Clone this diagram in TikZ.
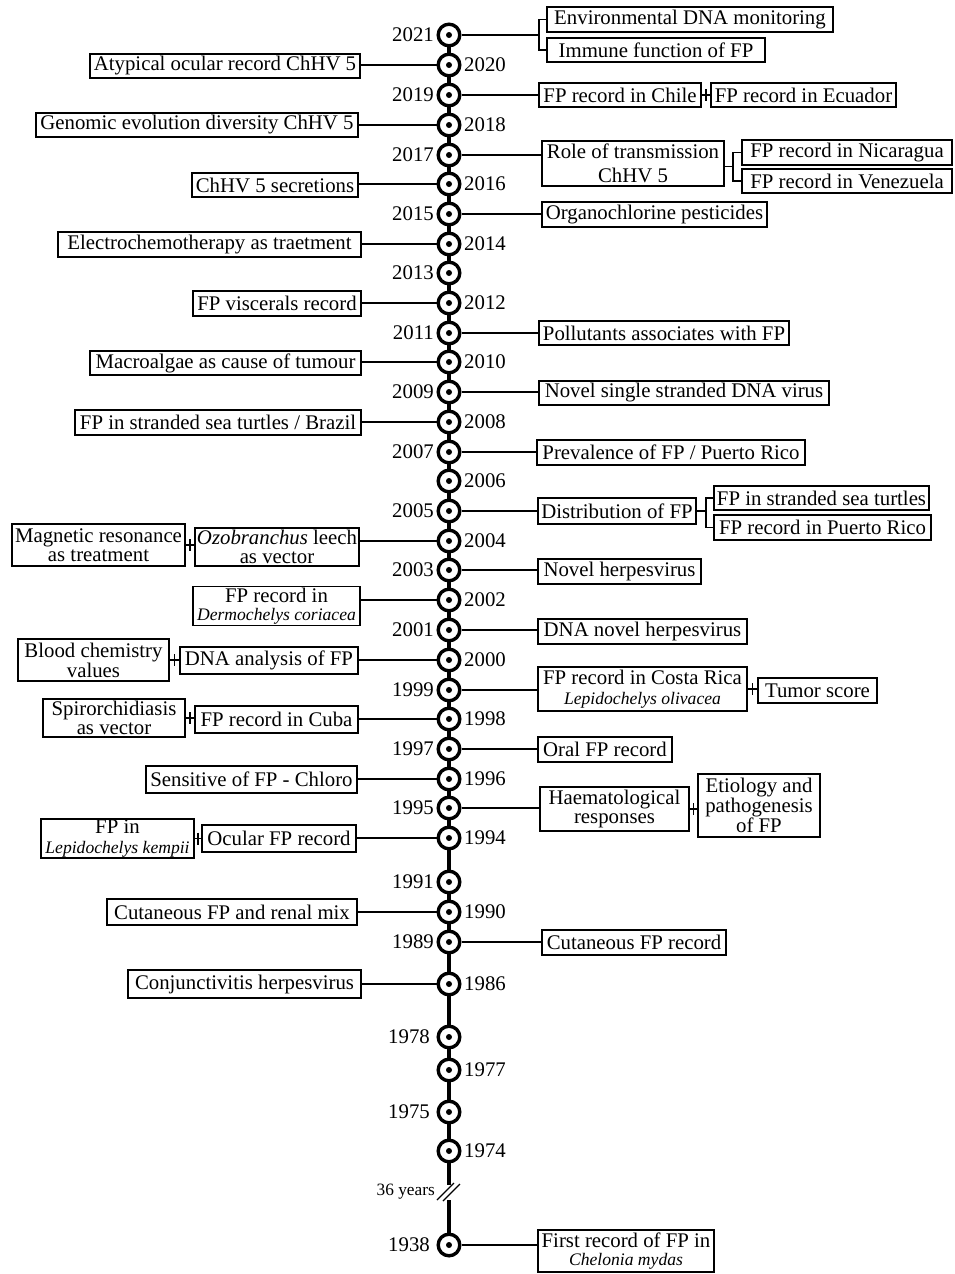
\documentclass[tikz,border=0pt]{standalone}
\usepackage{fontspec}
\setmainfont{Liberation Serif}
\usetikzlibrary{backgrounds}
\newcommand\mainf{\fontsize{20.8pt}{18.5pt}\selectfont}
\newcommand\spf{\fontsize{17.6pt}{17pt}\selectfont\itshape}
\newcommand\smf{\fontsize{17.3pt}{18pt}\selectfont}
\newcommand\BX[6]{\node[bx, minimum width={(#3-#2-1.6)*1pt}, minimum height={(#5-#4-1.6)*1pt}] (#1) at ({(#2+#3)/2},{(#4+#5)/2}) {#6};}
\newcommand\LK[2]{\draw[cn] (#1.east) -- coordinate (m#1) (#1.east -| #2.west); \draw[cn] ([yshift=6pt]m#1) -- ([yshift=-6pt]m#1);}
\tikzset{
  bx/.style={draw, line width=1.6pt, inner xsep=1pt, inner ysep=1pt, align=center, font=\mainf},
  cn/.style={line width=1.5pt},
  tl/.style={line width=3.5pt},
  yr/.style={circle, draw, line width=3.4pt, fill=white, minimum size=21.6pt, inner sep=0pt},
  lab/.style={font=\mainf, inner xsep=2.5pt, inner ysep=0pt},
}
\begin{document}
\begin{tikzpicture}[x=1pt, y=-1pt]
\useasboundingbox (0,0) rectangle (955,1274);

% year circles
\foreach \y/\yy in {2021/35,2019/95,2017/155,2015/214,2013/273,2011/333,2009/392,2007/452,2005/511,2003/570,2001/630,1999/690,1997/749,1995/808,1991/882,1989/942}{
  \node[yr] (c\y) at (449,\yy) {};
  \fill (c\y) circle (3pt);
  \node[lab, anchor=east] (l\y) at (c\y.west) {\y};
}
\foreach \y/\yy in {1978/1037,1975/1112,1938/1245}{
  \node[yr] (c\y) at (449,\yy) {};
  \fill (c\y) circle (3pt);
  \node[lab, anchor=east, xshift=-4pt] (l\y) at (c\y.west) {\y};
}
\foreach \y/\yy in {2020/65,2018/125,2016/184,2014/244,2012/303,2010/362,2008/422,2006/481,2004/541,2002/600,2000/660,1998/719,1996/779,1994/838,1990/912,1986/984,1977/1070,1974/1151}{
  \node[yr] (c\y) at (449,\yy) {};
  \fill (c\y) circle (3pt);
  \node[lab, anchor=west] (l\y) at (c\y.east) {\y};
}

% timeline
\coordinate (brk1) at (449,1185);
\coordinate (brk2) at (449,1200);
\begin{scope}[on background layer]
  \draw[tl] (c2021.center) -- (brk1);
  \draw[tl] (brk2) -- (c1938.center);
\end{scope}
\draw[line width=1.3pt] (437,1200) -- (454,1183);
\draw[line width=1.3pt] (443,1201) -- (460,1184);
\node[font=\smf, anchor=east, inner sep=1pt] (gap) at (436,1192) {36 years};

% right boxes
\BX{env}{546}{834}{6}{33}{Environmental DNA monitoring}
\BX{imm}{546}{766}{37}{63}{Immune function of FP}
\BX{chile}{538}{702}{82}{108}{FP record in Chile}
\BX{ecu}{710}{897}{82}{108}{FP record in Ecuador}
\BX{role}{541}{725}{140}{187}{Role of transmission\\[5pt]ChHV 5}
\BX{nic}{741}{953}{139}{166}{FP record in Nicaragua}
\BX{ven}{741}{953}{168}{194}{FP record in Venezuela}
\BX{org}{541}{768}{201}{228}{Organochlorine pesticides}
\BX{pol}{538}{790}{320}{346}{Pollutants associates with FP}
\BX{nss}{538}{830}{380}{406}{Novel single stranded DNA virus}
\BX{prev}{536}{806}{439}{466}{Prevalence of FP / Puerto Rico}
\BX{dist}{537}{697}{497}{525}{Distribution of FP}
\BX{stt}{713}{930}{485}{511}{FP in stranded sea turtles}
\BX{prr}{713}{932}{514}{541}{FP record in Puerto Rico}
\BX{nh}{537}{702}{558}{585}{Novel herpesvirus}
\BX{dnh}{537}{748}{618}{645}{DNA novel herpesvirus}
\BX{cr}{537}{748}{666}{712}{FP record in Costa Rica\\[1pt]{\spf Lepidochelys olivacea}}
\BX{ts}{757}{878}{677}{704}{Tumor score}
\BX{oral}{537}{673}{736}{763}{Oral FP record}
\BX{haem}{539}{690}{786}{832}{Haematological\\responses}
\BX{etio}{697}{821}{773}{838}{Etiology and\\pathogenesis\\of FP}
\BX{cut}{541}{727}{929}{956}{Cutaneous FP record}
\BX{first}{537}{715}{1229}{1273}{First record of FP in\\{\spf Chelonia mydas}}

% left boxes
\BX{aty}{89}{361}{53}{79}{Atypical ocular record ChHV 5}
\BX{gen}{35}{359}{112}{138}{Genomic evolution diversity ChHV 5}
\BX{sec}{191}{359}{172}{198}{ChHV 5 secretions}
\BX{ele}{57}{362}{231}{258}{Electrochemotherapy as traetment}
\BX{vis}{192}{362}{290}{317}{FP viscerals record}
\BX{mac}{89}{362}{350}{376}{Macroalgae as cause of tumour}
\BX{bra}{74}{362}{409}{436}{FP in stranded sea turtles / Brazil}
\BX{ozo}{194}{360}{527}{567}{\textit{Ozobranchus} leech\\as vector}
\BX{mag}{11}{186}{523}{567}{Magnetic resonance\\as treatment}
\BX{der}{192}{361}{586}{626}{FP record in\\{\spf Dermochelys coriacea}}
\BX{dna}{179}{359}{646}{675}{DNA analysis of FP}
\BX{blo}{17}{170}{638}{682}{Blood chemistry\\values}
\BX{cuba}{194}{359}{705}{734}{FP record in Cuba}
\BX{spi}{42}{186}{698}{738}{Spirorchidiasis\\as vector}
\BX{sen}{145}{358}{765}{794}{Sensitive of FP - Chloro}
\BX{ocu}{201}{357}{824}{853}{Ocular FP record}
\BX{kem}{40}{195}{818}{859}{FP in\\[1pt]{\spf Lepidochelys kempii}}
\BX{cfr}{106}{358}{898}{926}{Cutaneous FP and renal mix}
\BX{con}{127}{362}{969}{999}{Conjunctivitis herpesvirus}

% left connectors
\foreach \y/\b in {2020/aty,2018/gen,2016/sec,2014/ele,2012/vis,2010/mac,2008/bra,2004/ozo,2002/der,2000/dna,1998/cuba,1996/sen,1994/ocu,1990/cfr,1986/con}{
  \draw[cn] (c\y) -- (c\y -| \b.east);
}
% right connectors
\foreach \y/\b in {2019/chile,2017/role,2015/org,2011/pol,2009/nss,2007/prev,2005/dist,2003/nh,2001/dnh,1999/cr,1997/oral,1995/haem,1989/cut,1938/first}{
  \draw[cn] (c\y) -- (c\y -| \b.west);
}
% forks
\coordinate (f2021) at (539,35);
\draw[cn] (c2021) -- (f2021);
\draw[cn] (env.west) -| (f2021) |- (imm.west);
\coordinate (f2017) at (733,166.5);
\draw[cn] (role.east |- f2017) -- (f2017);
\draw[cn] (nic.west) -| (f2017) |- (ven.west);
\coordinate (f2005) at (706,511);
\draw[cn] (dist.east |- f2005) -- (f2005);
\draw[cn] (stt.west) -| (f2005) |- (prr.west);
% links between boxes
\LK{chile}{ecu}
\LK{mag}{ozo}
\LK{blo}{dna}
\LK{spi}{cuba}
\LK{kem}{ocu}
\LK{cr}{ts}
\LK{haem}{etio}
\end{tikzpicture}
\end{document}
